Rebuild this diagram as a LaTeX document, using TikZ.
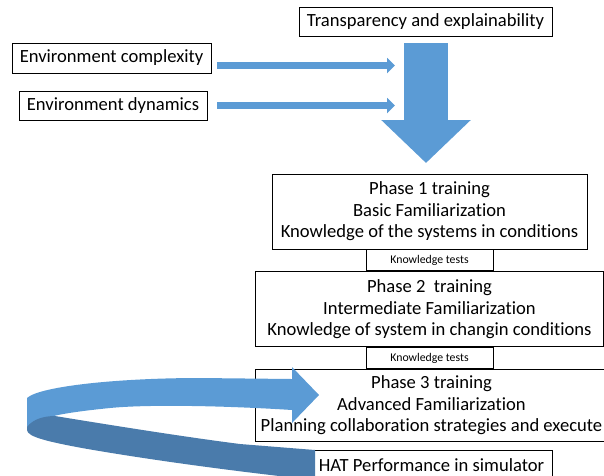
\documentclass[tikz,border=0pt]{standalone}
\usepackage{fontspec}
\setmainfont{Carlito}[Ligatures=NoCommon]
\usepackage{tikz}
\usetikzlibrary{arrows.meta,positioning}
\definecolor{blueflow}{HTML}{5B9BD5}
\definecolor{bluedark}{HTML}{4A7BAB}

\begin{document}
\begin{tikzpicture}[
  x=1pt, y=-1pt,
  box/.style={draw, line width=0.9pt, align=center, inner sep=2pt, font=\fontsize{18.6}{21.5}\selectfont},
  phase/.style={box, minimum height=75pt},
  test/.style={draw, line width=0.9pt, minimum width=127pt, minimum height=21pt, inner sep=1pt, font=\fontsize{11.8}{13}\selectfont},
  thinarr/.style={blueflow, line width=7pt, -{Triangle[length=8pt, width=15pt]}},
  bigarr/.style={blueflow, line width=44pt, -{Triangle[length=43pt, width=87pt]}}]
\useasboundingbox (0,0) rectangle (604,475);

\node[box, minimum width=253pt, minimum height=29pt] (trans) at (425.5,21.5) {Transparency and explainability};
\node[box, minimum width=199pt, minimum height=30pt] (cplx) at (111.5,58) {Environment complexity};
\node[box, minimum width=188pt, minimum height=29pt] (dyn) at (113,105.5) {Environment dynamics};

\node[phase, minimum width=315pt] (ph1) at (429.5,211.5) {Phase 1 training\\ Basic Familiarization\\ Knowledge of the systems in conditions};
\node[test, below=0pt of ph1] (kt1) {Knowledge tests};
\node[phase, minimum width=348pt, below=0pt of kt1] (ph2) {Phase 2\ \ training\\ Intermediate Familiarization\\ Knowledge of system in changin conditions};
\node[test, below=0pt of ph2] (kt2) {Knowledge tests};
\node[box, minimum width=352pt, minimum height=72pt, anchor=north west] (ph3) at (ph2.west |- kt2.south) {Phase 3 training\\ Advanced Familiarization\\ Planning collaboration strategies and execute};
\node[box, minimum width=241pt, minimum height=29pt, below=8pt of ph3] (hat) {HAT Performance in simulator};

\coordinate (cend) at (395,65.5);
\coordinate (dend) at (395,105.5);
\coordinate (dtip) at (426,163);
\draw[thinarr] (cplx.east |- cend) ++(6,0) -- (cend);
\draw[thinarr] (cplx.east |- dend) ++(6,0) -- (dend);
\draw[bigarr] (dtip |- trans.south) ++(0,7) -- (dtip);

% loop back into phase 3: inner face first, outer face over it
\fill[blueflow] (27,427) -- (27,398) .. controls (40,386) and (120,378) .. (200,378)
  -- (292,379) -- (292,367) -- (319,395) -- (292,423) -- (292,410)
  .. controls (230,406) and (150,404) .. (110,408)
  .. controls (80,411) and (60,414) .. (50,417) -- cycle;
\fill[bluedark] (27,427) .. controls (33,419) and (44,416) .. (55,416)
  .. controls (110,425) and (185,437) .. (240,444) -- (315,450) -- (315,480)
  .. controls (240,472) and (150,460) .. (82,448)
  .. controls (50,442) and (27,437) .. (27,430) -- cycle;
\end{tikzpicture}
\end{document}
